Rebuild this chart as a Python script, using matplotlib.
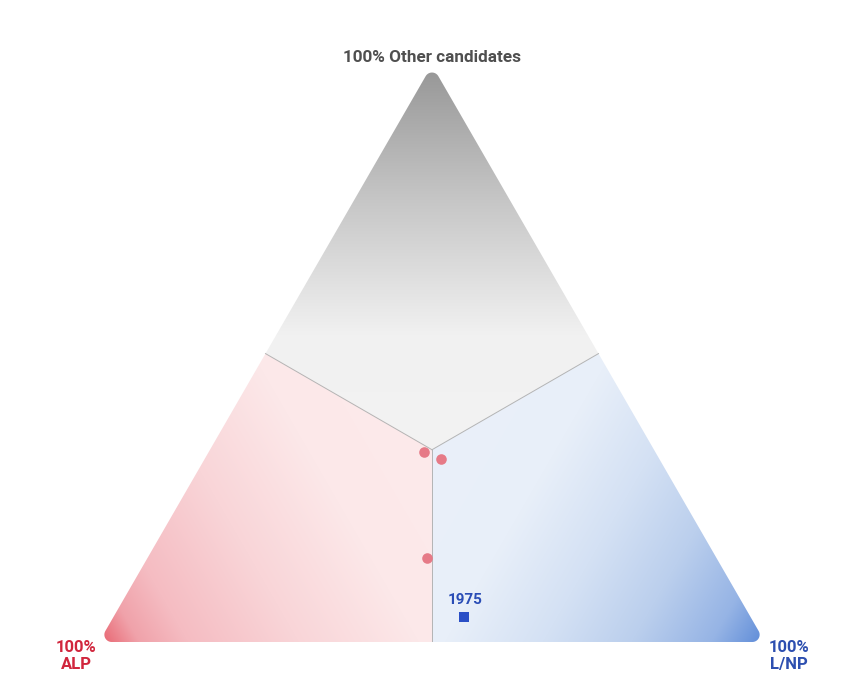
import numpy as np
import matplotlib.pyplot as plt
from matplotlib.patches import Polygon
from matplotlib.colors import to_rgb

# election results, % of first preference vote
alp_share = [34.8, 32.8, 43.5, 43.0]
lnp_share = [32.3, 35.5, 42.0, 52.6]
other_share = [32.9, 31.7, 14.5, 4.4]
winner = ['ALP', 'ALP', 'ALP', 'LNP']
point_labels = ['', '', '', '1975']

corner_labels = ['100%\nALP', '100%\nL/NP', '100% Other candidates']

H = np.sqrt(3) / 2
V = np.array([[0.0, 0.0], [1.0, 0.0], [0.5, H]])   # ALP, L/NP, Other
C = V.mean(axis=0)

# gradient stops (s=0 at vertex, s=1 at centre)
stops = {
    0: ([0.0, 0.09, 0.2, 0.45, 0.72, 1.0],
        ['#e8626e', '#f0a2aa', '#f5bcc2', '#f9d5d8', '#fce8e9', '#fdeaeb']),
    1: ([0.0, 0.12, 0.3, 0.5, 0.72, 1.0],
        ['#5d8bd8', '#96b4e5', '#bbcfed', '#d4e1f4', '#e8eff9', '#eaf0fa']),
    2: ([0.0, 0.35, 0.7, 1.0],
        ['#969696', '#c6c6c6', '#f1f1f1', '#f3f3f3']),
}


def tern_xy(a, l, o):
    a, l, o = np.asarray(a), np.asarray(l), np.asarray(o)
    tot = a + l + o
    return (l + o / 2) / tot, (o * H) / tot


def rounded_triangle(r):
    ri = H / 3
    k = (ri - r) / ri
    inner = C + (V - C) * k
    spans = [(150, 270), (270, 390), (30, 150)]
    pts = []
    for p, (t0, t1) in zip(inner, spans):
        t = np.radians(np.linspace(t0, t1, 20))
        pts.append(np.column_stack([p[0] + r * np.cos(t), p[1] + r * np.sin(t)]))
    return np.vstack(pts)


fig = plt.figure(figsize=(8.67, 6.93), dpi=100)
ax = fig.add_axes([99 / 867, 51 / 693, 666 / 867, 576.8 / 693])
ax.set_xlim(0, 1)
ax.set_ylim(0, H)
ax.axis('off')

# background gradients
nx, ny = 900, 780
gx, gy = np.meshgrid(np.linspace(0, 1, nx), np.linspace(0, H, ny))
o_b = gy / H
l_b = gx - o_b / 2
a_b = 1 - l_b - o_b
region = np.argmax(np.stack([a_b, l_b, o_b]), axis=0)
img = np.zeros((ny, nx, 3))
for k in range(3):
    d = C - V[k]
    s = ((gx - V[k, 0]) * d[0] + (gy - V[k, 1]) * d[1]) / (d @ d)
    pos, cols = stops[k]
    rgb = np.array([to_rgb(c) for c in cols])
    for ch in range(3):
        vals = np.interp(s, pos, rgb[:, ch])
        img[..., ch] = np.where(region == k, vals, img[..., ch])

clip = Polygon(rounded_triangle(0.011), closed=True, facecolor='none',
               edgecolor='none', transform=ax.transData)
ax.add_patch(clip)
im = ax.imshow(img, extent=[0, 1, 0, H], origin='lower', interpolation='bilinear',
               aspect='auto')
im.set_clip_path(clip)

# boundary lines from centre to edge midpoints
mids = [(V[0] + V[1]) / 2, (V[1] + V[2]) / 2, (V[0] + V[2]) / 2]
for m in mids:
    ax.plot([C[0], m[0]], [C[1], m[1]], color='#b4b4b4', lw=0.7, zorder=3)

# points
style = {'ALP': dict(marker='o', color='#e67a87', s=58),
         'LNP': dict(marker='s', color='#2a4fc6', s=42)}
px, py = tern_xy(alp_share, lnp_share, other_share)
for x, y, w, lab in zip(px, py, winner, point_labels):
    ax.scatter([x], [y], zorder=5, linewidths=0, clip_on=False, **style[w])
    if lab:
        ax.annotate(lab, (x, y), xytext=(1, 17), textcoords='offset pixels',
                    ha='center', va='center', fontsize=11, fontweight='bold',
                    family='Roboto', color='#2a4db6')

# corner labels
ax.annotate(corner_labels[0], V[0], xytext=(-23, -14), textcoords='offset pixels',
            ha='center', va='center', multialignment='center', fontsize=12,
            fontweight='bold', family='Roboto', color='#d1263d', linespacing=1.1)
ax.annotate(corner_labels[1], V[1], xytext=(24, -14), textcoords='offset pixels',
            ha='center', va='center', multialignment='center', fontsize=12,
            fontweight='bold', family='Roboto', color='#2d4fb0', linespacing=1.1)
ax.annotate(corner_labels[2], V[2], xytext=(0, 8), textcoords='offset pixels',
            ha='center', va='center', fontsize=12.3, fontweight='bold',
            family='Roboto', color='#4f4f4f')

fig.savefig('out.png', dpi=100, facecolor='white')
